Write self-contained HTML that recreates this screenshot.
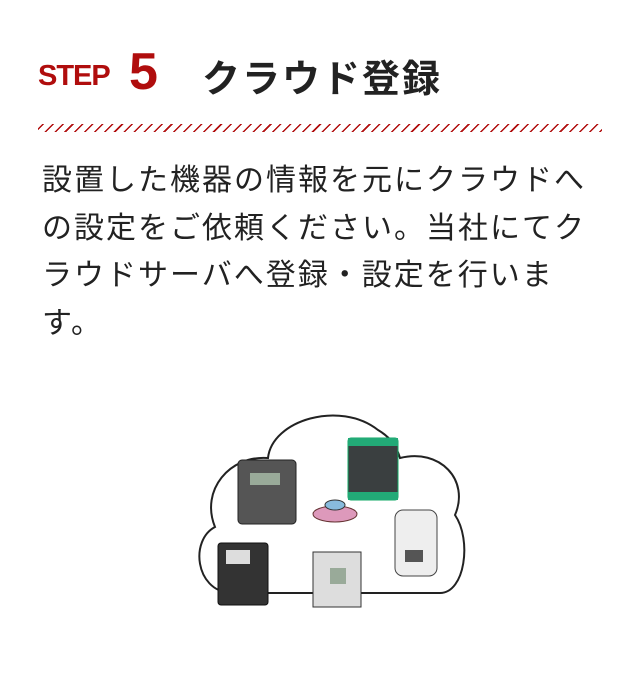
<!DOCTYPE html>
<html><head><meta charset="utf-8"><style>
body{margin:0;width:640px;height:678px;background:#fff;position:relative;overflow:hidden;font-family:"Liberation Sans","Noto Sans CJK JP",sans-serif}
.step{position:absolute;left:38px;top:60px;color:#b00d0d;font-weight:bold;font-size:29px;letter-spacing:-1px}
.five{position:absolute;left:129px;top:42px;color:#b00d0d;font-weight:bold;font-size:52px}
.ttl{position:absolute;left:202px;top:48px;color:#222;font-weight:bold;font-size:38px;letter-spacing:2px}
.hatch{position:absolute;left:38px;top:124px;width:564px;height:8px;background:repeating-linear-gradient(135deg,transparent 0 3px,#b00d0d 3px 4.5px,transparent 4.5px 7px)}
.txt{position:absolute;left:42px;top:157px;width:560px;font-size:30px;line-height:47.5px;letter-spacing:2px;color:#222}
</style></head><body>
<div class="step">STEP</div><div class="five">5</div>
<div class="ttl">クラウド登録</div>
<div class="hatch"></div>
<div class="txt">設置した機器の情報を元にクラウドへの設定をご依頼ください。当社にてクラウドサーバへ登録・設定を行います。</div>
<svg style="position:absolute;left:0;top:0" width="640" height="678">
<path d="M230 593 C195 590 190 540 215 527 C200 490 230 455 268 458 C272 420 340 400 378 430 C395 440 398 452 400 458 C440 448 470 480 455 515 C472 540 465 593 440 593 Z" fill="#fff" stroke="#222" stroke-width="2"/>
<rect x="238" y="460" width="58" height="64" rx="4" fill="#555" stroke="#222"/>
<rect x="250" y="473" width="30" height="12" fill="#9a9"/>
<rect x="348" y="438" width="50" height="62" rx="3" fill="#3a3f40" stroke="#1a6"/>
<rect x="348" y="438" width="50" height="8" fill="#2a7"/><rect x="348" y="492" width="50" height="8" fill="#2a7"/>
<rect x="395" y="510" width="42" height="66" rx="8" fill="#eee" stroke="#444"/>
<rect x="405" y="550" width="18" height="12" fill="#555"/>
<rect x="218" y="543" width="50" height="62" rx="3" fill="#333" stroke="#111"/>
<rect x="226" y="550" width="24" height="14" fill="#ddd"/>
<rect x="313" y="552" width="48" height="55" fill="#ddd" stroke="#333"/>
<rect x="330" y="568" width="16" height="16" fill="#9a9"/>
<ellipse cx="335" cy="514" rx="22" ry="8" fill="#d9b" stroke="#633"/>
<ellipse cx="335" cy="505" rx="10" ry="5" fill="#8bd" stroke="#333"/>
</svg>
</body></html>
